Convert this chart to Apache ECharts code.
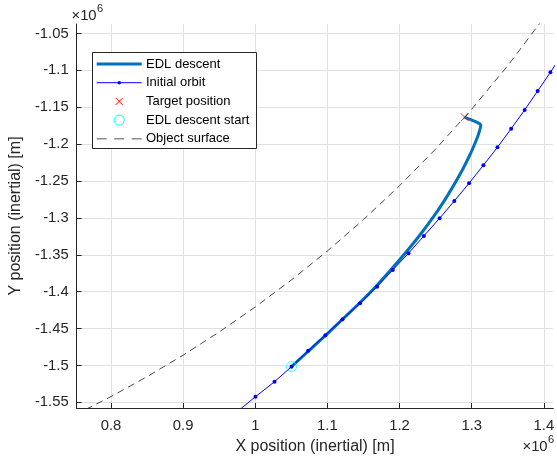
<!DOCTYPE html>
<html>
<head>
<meta charset="utf-8">
<script src="https://cdn.jsdelivr.net/npm/echarts@6/dist/echarts.min.js"></script>
<style>
  html, body { margin: 0; padding: 0; background: #fff; }
  #chart { width: 557px; height: 460px; }
</style>
</head>
<body>
<div id="chart"></div>
<script>
// All positions are in units of 10^6 m (inertial frame).

// EDL descent trajectory
const descentX = [1.0502, 1.0746, 1.0991, 1.1236, 1.1467, 1.1685, 1.1889, 1.2092, 1.2283, 1.2459,
                  1.2617, 1.2750, 1.2878, 1.2971, 1.3033, 1.3082, 1.3114, 1.3126, 1.3066, 1.2976, 1.2904];
const descentY = [-1.5017, -1.4798, -1.4578, -1.4350, -1.4133, -1.3916, -1.3693, -1.3462, -1.3232, -1.3001,
                  -1.2772, -1.2559, -1.2336, -1.2154, -1.2018, -1.1899, -1.1803, -1.1736, -1.1700, -1.1663, -1.1636];

// Initial orbit samples
const orbitX = [0.9750, 1.0003, 1.0267, 1.0502, 1.0733, 1.0971, 1.1209, 1.1453, 1.1689, 1.1906, 1.2124,
                1.2337, 1.2555, 1.2759, 1.2963, 1.3162, 1.3357, 1.3547, 1.3734, 1.3914, 1.4091, 1.4261];
const orbitY = [-1.5627, -1.5424, -1.5221, -1.5017, -1.4802, -1.4590, -1.4375, -1.4158, -1.3933, -1.3706, -1.3480,
                -1.3245, -1.3005, -1.2771, -1.2531, -1.2287, -1.2043, -1.1791, -1.1537, -1.1280, -1.1026, -1.0771];

// Target position and EDL descent start
const targetPos = [1.2904, -1.1636];
const startPos = [1.0502, -1.5017];

// Object surface outline
const surfaceX = [0.75, 0.80, 0.85, 0.90, 0.95, 1.00, 1.05, 1.10, 1.15, 1.20, 1.25, 1.30, 1.35, 1.40, 1.42];
const surfaceY = [-1.56718, -1.54226, -1.51528, -1.48612, -1.45467, -1.42076, -1.38422, -1.34483,
                  -1.30233, -1.25641, -1.20667, -1.15263, -1.09365, -1.02886, -1.00108];

// Axis ticks
const xTicks = [0.8, 0.9, 1.0, 1.1, 1.2, 1.3, 1.4];
const yTicks = [-1.55, -1.5, -1.45, -1.4, -1.35, -1.3, -1.25, -1.2, -1.15, -1.1, -1.05];
const xRange = [0.75241, 1.4132];
const yRange = [-1.55773, -1.03712];

const zip = (xs, ys) => xs.map((x, i) => [x, ys[i]]);

const FONT = '"Liberation Sans", Arial, Helvetica, sans-serif';
const AXIS_COLOR = '#262626';
const GRID_COLOR = '#e1e1e1';

const chart = echarts.init(document.getElementById('chart'), null, { renderer: 'canvas' });

function axisCommon(ticks, margin) {
  return {
    type: 'value',
    axisLine: { show: true, onZero: false, lineStyle: { color: AXIS_COLOR, width: 1 } },
    axisTick: { show: true, inside: true, length: 5, customValues: ticks, lineStyle: { color: AXIS_COLOR } },
    axisLabel: {
      customValues: ticks, margin: margin,
      color: AXIS_COLOR, fontFamily: FONT, fontSize: 14.8,
      formatter: v => String(+(+v).toFixed(3))
    },
    splitLine: { show: true, lineStyle: { color: GRID_COLOR, width: 1 } },
    nameLocation: 'middle',
    nameTextStyle: { color: AXIS_COLOR, fontFamily: FONT, fontSize: 16 }
  };
}

// Legend rows
const legendX = 92.5, legendY = 52.5, legendW = 164, legendH = 96;
const rowY = [64, 82.7, 101.4, 120.1, 138.8];
const lineX0 = 96.7, lineX1 = 141.7, lineMid = (96.7 + 141.7) / 2, textX = 146;
const legendNames = ['EDL descent', 'Initial orbit', 'Target position', 'EDL descent start', 'Object surface'];

const legendGraphics = [
  { type: 'rect', shape: { x: legendX, y: legendY, width: legendW, height: legendH },
    style: { fill: '#fff', stroke: AXIS_COLOR, lineWidth: 1 }, z: 100 },
  { type: 'line', shape: { x1: lineX0, y1: rowY[0], x2: lineX1, y2: rowY[0] },
    style: { stroke: '#0072BD', lineWidth: 3 }, z: 101 },
  { type: 'line', shape: { x1: lineX0, y1: rowY[1], x2: lineX1, y2: rowY[1] },
    style: { stroke: '#0000FF', lineWidth: 1 }, z: 101 },
  { type: 'circle', shape: { cx: lineMid, cy: rowY[1], r: 1.8 },
    style: { fill: '#0000FF' }, z: 102 },
  { type: 'polyline', shape: { points: [[lineMid - 3.5, rowY[2] - 3.5], [lineMid + 3.5, rowY[2] + 3.5]] },
    style: { stroke: '#FF0000', lineWidth: 1, fill: null }, z: 101 },
  { type: 'polyline', shape: { points: [[lineMid + 3.5, rowY[2] - 3.5], [lineMid - 3.5, rowY[2] + 3.5]] },
    style: { stroke: '#FF0000', lineWidth: 1, fill: null }, z: 101 },
  { type: 'circle', shape: { cx: lineMid, cy: rowY[3], r: 5 },
    style: { fill: null, stroke: '#00FFFF', lineWidth: 1 }, z: 101 },
  { type: 'line', shape: { x1: lineX0, y1: rowY[4], x2: lineX1, y2: rowY[4] },
    style: { stroke: '#8c8c8c', lineWidth: 1.5, lineDash: [10, 7.5] }, z: 101 }
];
legendNames.forEach((name, i) => {
  legendGraphics.push({
    type: 'text', x: textX, y: rowY[i], z: 101,
    style: { text: name, fill: '#000', font: '13px ' + FONT, verticalAlign: 'middle', align: 'left' }
  });
});

// Axis exponent labels
const exponentGraphics = [
  { type: 'text', x: 71.5, y: 16, style: { text: '×10', fill: AXIS_COLOR, font: '14.8px ' + FONT, verticalAlign: 'middle' } },
  { type: 'text', x: 97, y: 9, style: { text: '6', fill: AXIS_COLOR, font: '11px ' + FONT, verticalAlign: 'middle' } },
  { type: 'text', x: 522.5, y: 447, style: { text: '×10', fill: AXIS_COLOR, font: '14.8px ' + FONT, verticalAlign: 'middle' } },
  { type: 'text', x: 548, y: 440, style: { text: '6', fill: AXIS_COLOR, font: '11px ' + FONT, verticalAlign: 'middle' } }
];

const option = {
  animation: false,
  backgroundColor: '#fff',
  grid: { left: 71, right: 0, top: 24, bottom: 52, containLabel: false },
  xAxis: Object.assign(axisCommon(xTicks, 10), {
    min: xRange[0], max: xRange[1],
    name: 'X position (inertial) [m]', nameGap: 31
  }),
  yAxis: Object.assign(axisCommon(yTicks, 8), {
    min: yRange[0], max: yRange[1],
    name: 'Y position (inertial) [m]', nameGap: 45
  }),
  series: [
    {
      name: 'EDL descent', type: 'line', data: zip(descentX, descentY),
      symbol: 'none', smooth: 0.2, lineStyle: { color: '#0072BD', width: 3 }, z: 3, silent: true
    },
    {
      name: 'Initial orbit', type: 'line', data: zip(orbitX, orbitY),
      symbol: 'circle', symbolSize: 4, showSymbol: true,
      itemStyle: { color: '#0000FF' }, lineStyle: { color: '#0000FF', width: 1 }, z: 4, silent: true
    },
    {
      name: 'Target position', type: 'scatter', data: [targetPos],
      symbol: 'path://M0,0L10,10M10,0L0,10', symbolSize: 8,
      itemStyle: { color: 'none', borderColor: '#FF0000', borderWidth: 1 }, z: 5, silent: true
    },
    {
      name: 'EDL descent start', type: 'scatter', data: [startPos],
      symbol: 'circle', symbolSize: 10,
      itemStyle: { color: 'none', borderColor: '#00FFFF', borderWidth: 1 }, z: 6, silent: true
    },
    {
      name: 'Object surface', type: 'line', data: zip(surfaceX, surfaceY),
      symbol: 'none', lineStyle: { color: '#333', width: 0.9, type: [7, 5] }, z: 7, silent: true
    }
  ],
  graphic: legendGraphics.concat(exponentGraphics)
};

chart.setOption(option);
</script>
</body>
</html>
